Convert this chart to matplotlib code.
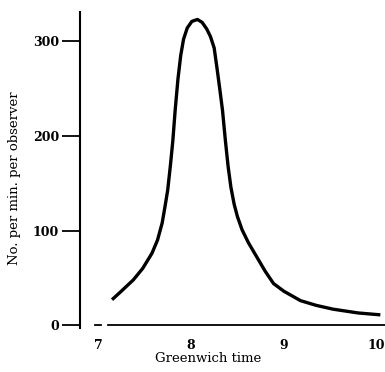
import matplotlib
matplotlib.use("Agg")
import matplotlib.pyplot as plt

# readings taken off the scanned curve (hours GMT, count per minute per observer)
hours = [7.15, 7.25, 7.38, 7.48, 7.58, 7.64, 7.69, 7.72, 7.75, 7.78, 7.805, 7.83,
         7.86, 7.89, 7.92, 7.96, 8.01, 8.07, 8.12, 8.17, 8.21, 8.25, 8.28, 8.31,
         8.34, 8.37, 8.40, 8.43, 8.465, 8.50, 8.55, 8.62, 8.71, 8.80, 8.89, 9.00,
         9.18, 9.35, 9.53, 9.80, 10.04]
rate = [27, 36, 48, 60, 76, 90, 108, 125, 143, 170, 195, 227,
        260, 285, 302, 314, 321, 323, 320, 313, 305, 293, 272, 250,
        227, 196, 168, 146, 128, 115, 101, 87, 72, 57, 44, 36,
        26, 21, 17, 13, 11]

y_ticks = [0, 100, 200, 300]
x_ticks = [7, 8, 9, 10]
x_labels = ["7", "8", "9", "10"]

plt.rcParams['font.family'] = ['DejaVu Serif']

fig = plt.figure(figsize=(3.85, 3.72), dpi=100)
ax = fig.add_axes([0.208, 0.118, 0.792, 0.850])

ax.plot(hours, rate, color='black', lw=2.4, solid_capstyle='butt', solid_joinstyle='round')

# baseline drawn as in the print: a short dash, a gap, then the long rule
ax.plot([6.97, 7.03], [0, 0], color='black', lw=1.3)
ax.plot([7.11, 10.1], [0, 0], color='black', lw=1.3)

ax.set_xlim(6.806, 10.09)
ax.set_ylim(-3, 331)

for s in ['top', 'right', 'bottom']:
    ax.spines[s].set_visible(False)
ax.spines['left'].set_linewidth(1.5)

ax.set_yticks(y_ticks)
ax.tick_params(axis='y', direction='out', length=13, width=1.3, pad=2, labelsize=9)
ax.set_xticks(x_ticks)
ax.set_xticklabels(x_labels)
ax.tick_params(axis='x', length=0, pad=8, labelsize=9)
for lab in ax.get_xticklabels() + ax.get_yticklabels():
    lab.set_fontweight('bold')

fig.text(208 / 385, 1 - 358 / 372, "Greenwich time", ha='center', va='center', fontsize=9.5)
fig.text(15 / 385, 1 - 178 / 372, "No. per min. per observer", ha='center', va='center',
         rotation=90, fontsize=9.5)

fig.savefig("out.png", dpi=100)
